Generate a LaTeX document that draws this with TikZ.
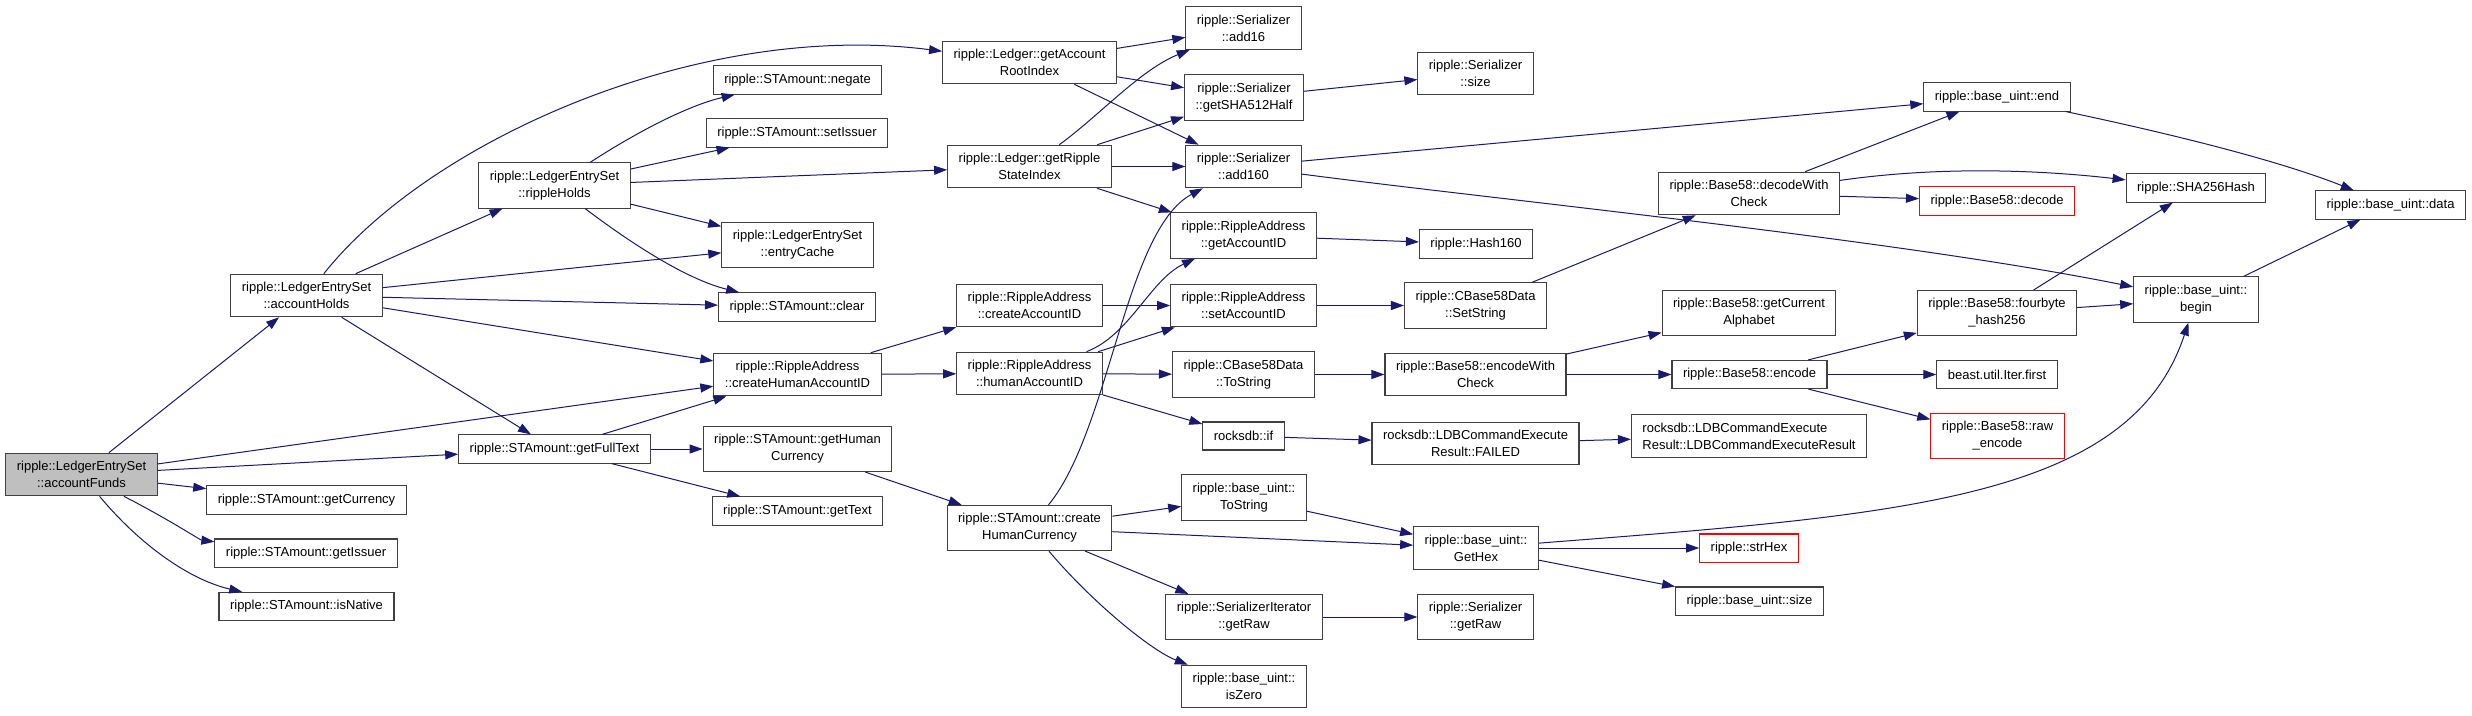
\documentclass[tikz,border=0pt]{standalone}
\usepackage{fontspec}
\setmainfont{Liberation Sans}
\usepackage{xcolor}
\usetikzlibrary{arrows.meta}
\definecolor{edgeblue}{HTML}{191970}
\definecolor{boxgray}{HTML}{404040}
\definecolor{selgray}{HTML}{BFBFBF}

\begin{document}
\begin{tikzpicture}[x=1pt, y=-1pt,
    fn/.style={rectangle, draw=boxgray, line width=1.1pt, font=\fontsize{13}{17}\selectfont,
      align=center, inner xsep=11pt, inner ysep=8pt, minimum height=28pt},
    nodoc/.style={fn, draw=red},
    call/.style={draw=edgeblue, line width=1pt, -{Triangle[length=13pt, width=9pt]}}]
    \useasboundingbox (0,0) rectangle (2472,715);

    \node (funds) at (81.5,474.5) [fn, fill=selgray] {ripple::LedgerEntrySet\\::accountFunds};
    \node (holds) at (306.5,295.5) [fn] {ripple::LedgerEntrySet\\::accountHolds};
    \node (getcur) at (306.5,500) [fn] {ripple::STAmount::getCurrency};
    \node (getiss) at (306,553) [fn] {ripple::STAmount::getIssuer};
    \node (isnat) at (306.5,606.5) [fn] {ripple::STAmount::isNative};
    \node (rholds) at (554.5,185.5) [fn] {ripple::LedgerEntrySet\\::rippleHolds};
    \node (fulltext) at (554.5,449) [fn] {ripple::STAmount::getFullText};
    \node (negate) at (797.5,80) [fn] {ripple::STAmount::negate};
    \node (setiss) at (797,133) [fn] {ripple::STAmount::setIssuer};
    \node (ecache) at (797.5,245) [fn] {ripple::LedgerEntrySet\\::entryCache};
    \node (clear) at (797,307) [fn] {ripple::STAmount::clear};
    \node (hacct) at (797.5,374.5) [fn] {ripple::RippleAddress\\::createHumanAccountID};
    \node (humcur) at (797.5,449) [fn] {ripple::STAmount::getHuman\\Currency};
    \node (gettext) at (797.5,511) [fn] {ripple::STAmount::getText};
    \node (rootidx) at (1029.5,62.5) [fn] {ripple::Ledger::getAccount\\RootIndex};
    \node (stateidx) at (1029.5,166.5) [fn] {ripple::Ledger::getRipple\\StateIndex};
    \node (cacct) at (1029.5,305.5) [fn] {ripple::RippleAddress\\::createAccountID};
    \node (humacct) at (1029.5,373.5) [fn] {ripple::RippleAddress\\::humanAccountID};
    \node (chcur) at (1029.5,528) [fn] {ripple::STAmount::create\\HumanCurrency};
    \node (add16) at (1243.5,28) [fn] {ripple::Serializer\\::add16};
    \node (sha512) at (1244,97.5) [fn] {ripple::Serializer\\::getSHA512Half};
    \node (add160) at (1243.5,166.5) [fn] {ripple::Serializer\\::add160};
    \node (getacct) at (1243.5,235.5) [fn] {ripple::RippleAddress\\::getAccountID};
    \node (setacct) at (1243.5,305.5) [fn] {ripple::RippleAddress\\::setAccountID};
    \node (tostr58) at (1243.5,374.5) [fn] {ripple::CBase58Data\\::ToString};
    \node (rif) at (1243.5,436) [fn] {rocksdb::if};
    \node (uintstr) at (1244,497.5) [fn] {ripple::base\_uint::\\ToString};
    \node (siraw) at (1244,617) [fn] {ripple::SerializerIterator\\::getRaw};
    \node (iszero) at (1244,686.5) [fn] {ripple::base\_uint::\\isZero};
    \node (ssize) at (1475.5,73.5) [fn] {ripple::Serializer\\::size};
    \node (hash160) at (1476,244) [fn] {ripple::Hash160};
    \node (setstr) at (1475.5,305.5) [fn] {ripple::CBase58Data\\::SetString};
    \node (encchk) at (1475.5,374.5) [fn] {ripple::Base58::encodeWith\\Check};
    \node (failed) at (1475.5,443.5) [fn] {rocksdb::LDBCommandExecute\\Result::FAILED};
    \node (gethex) at (1476,548) [fn] {ripple::base\_uint::\\GetHex};
    \node (sgetraw) at (1475.5,617) [fn] {ripple::Serializer\\::getRaw};
    \node (decchk) at (1749,193.5) [fn] {ripple::Base58::decodeWith\\Check};
    \node (alpha) at (1749,313) [fn] {ripple::Base58::getCurrent\\Alphabet};
    \node (encode) at (1749.5,374.5) [fn] {ripple::Base58::encode};
    \node (ldbres) at (1749,436) [fn, align=left] {rocksdb::LDBCommandExecute\\Result::LDBCommandExecuteResult};
    \node (strhex) at (1749,548) [nodoc] {ripple::strHex};
    \node (usize) at (1749.5,601) [fn] {ripple::base\_uint::size};
    \node (uend) at (1997,97) [fn] {ripple::base\_uint::end};
    \node (decode) at (1997,201) [nodoc] {ripple::Base58::decode};
    \node (fourb) at (1997,313) [fn] {ripple::Base58::fourbyte\\\_hash256};
    \node (first) at (1997,374.5) [fn] {beast.util.Iter.first};
    \node (rawenc) at (1997.5,436) [nodoc] {ripple::Base58::raw\\\_encode};
    \node (sha256) at (2196,188) [fn] {ripple::SHA256Hash};
    \node (ubegin) at (2196,299.5) [fn] {ripple::base\_uint::\\begin};
    \node (udata) at (2390.5,205) [fn] {ripple::base\_uint::data};

    \draw[call] (funds) to (holds);
    \draw[call] (funds) to (hacct);
    \draw[call] (funds) to (fulltext);
    \draw[call] (funds) to (getcur);
    \draw[call] (funds) .. controls (170,520) and (200,540) .. (getiss);
    \draw[call] (funds) .. controls (140,545) and (190,580) .. (isnat);

    \draw[call] (holds) .. controls (430,140) and (700,20) .. (rootidx);
    \draw[call] (holds) to (rholds);
    \draw[call] (holds) to (ecache);
    \draw[call] (holds) to (clear);
    \draw[call] (holds) to (hacct);
    \draw[call] (holds) to (fulltext);

    \draw[call] (rholds) .. controls (640,130) and (690,105) .. (negate);
    \draw[call] (rholds) to (setiss);
    \draw[call] (rholds) to (stateidx);
    \draw[call] (rholds) to (ecache);
    \draw[call] (rholds) .. controls (640,250) and (690,280) .. (clear);

    \draw[call] (fulltext) to (hacct);
    \draw[call] (fulltext) to (humcur);
    \draw[call] (fulltext) to (gettext);
    \draw[call] (humcur) to (chcur);
    \draw[call] (hacct) to (cacct);
    \draw[call] (hacct) to (humacct);

    \draw[call] (rootidx) to (add16);
    \draw[call] (rootidx) to (sha512);
    \draw[call] (rootidx) to (add160);
    \draw[call] (stateidx) .. controls (1100,115) and (1140,70) .. (add16);
    \draw[call] (stateidx) to (sha512);
    \draw[call] (stateidx) to (add160);
    \draw[call] (stateidx) to (getacct);

    \draw[call] (cacct) to (setacct);
    \draw[call] (humacct) .. controls (1130,335) and (1150,280) .. (getacct);
    \draw[call] (humacct) to (setacct);
    \draw[call] (humacct) to (tostr58);
    \draw[call] (humacct) to (rif);

    \draw[call] (chcur) .. controls (1110,430) and (1125,230) .. (add160);
    \draw[call] (chcur) to (uintstr);
    \draw[call] (chcur) to (gethex);
    \draw[call] (chcur) to (siraw);
    \draw[call] (chcur) .. controls (1090,600) and (1150,650) .. (iszero);

    \draw[call] (sha512) to (ssize);
    \draw[call] (add160) to (uend);
    \draw[call] (add160) .. controls (1500,200) and (1900,240) .. (ubegin);
    \draw[call] (getacct) to (hash160);
    \draw[call] (setacct) to (setstr);
    \draw[call] (setstr) to (decchk);
    \draw[call] (tostr58) to (encchk);
    \draw[call] (rif) to (failed);
    \draw[call] (failed) to (ldbres);
    \draw[call] (uintstr) to (gethex);
    \draw[call] (siraw) to (sgetraw);

    \draw[call] (encchk) to (alpha);
    \draw[call] (encchk) to (encode);
    \draw[call] (decchk) to (uend);
    \draw[call] (decchk) .. controls (1940,166) and (2040,170) .. (sha256);
    \draw[call] (decchk) to (decode);
    \draw[call] (encode) to (fourb);
    \draw[call] (encode) to (first);
    \draw[call] (encode) to (rawenc);
    \draw[call] (fourb) to (ubegin);
    \draw[call] (fourb) to (sha256);

    \draw[call] (gethex) .. controls (1900,515) and (2130,500) .. (ubegin);
    \draw[call] (gethex) to (strhex);
    \draw[call] (gethex) to (usize);

    \draw[call] (uend) .. controls (2200,140) and (2290,165) .. (udata);
    \draw[call] (ubegin) to (udata);
\end{tikzpicture}
\end{document}
